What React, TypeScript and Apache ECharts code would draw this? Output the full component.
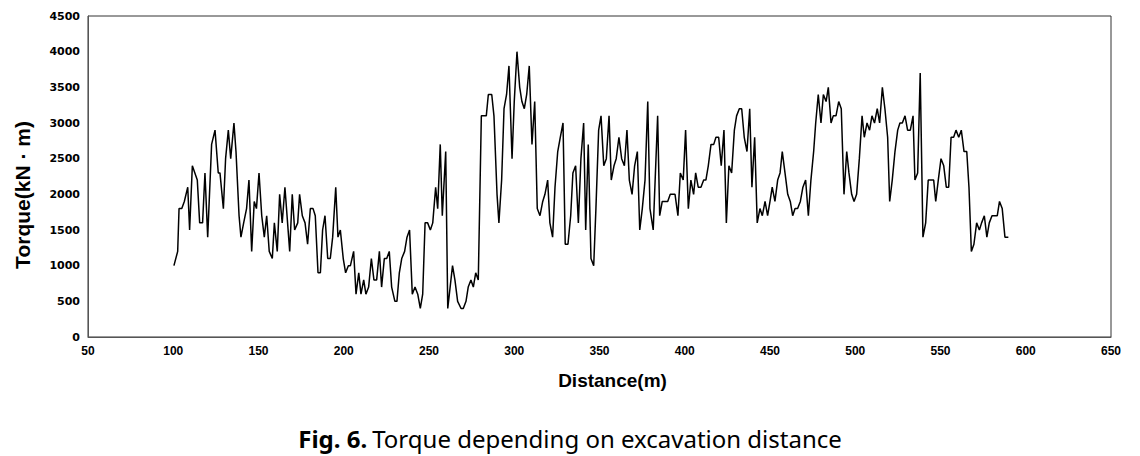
import React, { useEffect, useRef } from "react";
import * as echarts from "echarts";

const distances: number[] = [
  100.4, 102.6, 103.4, 105.0, 106.5, 108.5, 109.6, 111.2, 114.1, 115.5, 117.2, 118.6, 120.2, 122.5, 124.5, 126.4, 127.4, 129.4, 130.7, 132.3,
  133.7, 135.6, 136.8, 138.6, 139.7, 141.3, 143.0, 144.4, 146.0, 147.5, 148.8, 150.3, 151.9, 153.4, 154.8, 156.3, 158.1, 159.3, 161.0, 162.4,
  163.9, 165.5, 168.3, 169.8, 171.2, 173.0, 174.1, 175.7, 177.3, 178.8, 180.4, 182.0, 183.3, 184.9, 186.3, 187.6, 189.0, 190.6, 192.1, 193.5,
  195.3, 196.6, 198.0, 199.7, 201.1, 202.7, 203.9, 205.8, 207.2, 208.8, 210.1, 211.7, 213.0, 214.6, 216.2, 217.7, 219.3, 220.9, 222.2, 223.8,
  225.2, 226.7, 228.1, 230.0, 231.2, 232.6, 234.0, 235.7, 237.1, 238.6, 240.2, 241.8, 243.4, 244.9, 246.3, 247.7, 249.2, 250.8, 252.2, 253.9,
  255.1, 256.6, 257.8, 259.8, 261.0, 263.8, 265.2, 266.8, 268.8, 270.1, 271.7, 273.0, 274.6, 276.0, 277.4, 278.9, 280.7, 282.0, 283.6, 284.8,
  286.8, 288.1, 289.9, 291.0, 292.6, 294.0, 295.5, 296.9, 298.7, 300.0, 301.6, 303.2, 304.5, 305.9, 307.3, 308.8, 310.4, 312.0, 313.5, 315.1,
  316.7, 318.0, 319.6, 320.9, 322.5, 323.9, 325.5, 327.0, 328.6, 329.9, 331.5, 333.1, 334.4, 336.0, 337.6, 339.1, 340.7, 341.9, 343.4, 345.0,
  346.6, 347.9, 349.5, 350.9, 352.5, 354.0, 355.6, 356.9, 358.5, 359.8, 361.4, 363.0, 364.6, 366.1, 367.5, 369.1, 370.6, 372.2, 373.6, 375.1,
  376.7, 378.3, 379.6, 381.5, 384.1, 385.3, 386.8, 388.4, 390.0, 391.5, 392.9, 394.3, 396.0, 397.4, 399.1, 400.5, 402.1, 403.6, 405.2, 406.4,
  407.9, 409.5, 411.1, 412.4, 413.8, 415.4, 417.0, 418.3, 419.9, 421.4, 423.0, 424.4, 425.9, 427.5, 429.1, 430.4, 432.0, 433.4, 434.9, 436.5,
  438.1, 439.4, 441.0, 442.5, 444.1, 445.5, 447.1, 448.6, 450.0, 451.3, 452.9, 454.5, 455.9, 457.2, 458.8, 460.4, 461.9, 463.3, 464.7, 466.2,
  467.8, 469.3, 470.9, 472.5, 474.0, 475.6, 476.8, 478.3, 479.9, 481.3, 482.9, 484.2, 485.8, 487.1, 488.7, 490.3, 491.8, 493.4, 495.0, 496.3,
  497.9, 499.3, 500.8, 502.4, 504.0, 505.3, 506.9, 508.4, 509.8, 511.3, 512.9, 514.3, 515.9, 517.4, 519.0, 520.2, 521.7, 523.3, 524.9, 526.2,
  527.6, 529.2, 530.7, 532.3, 533.9, 535.0, 536.6, 538.1, 539.7, 541.3, 542.8, 544.4, 546.0, 547.2, 548.7, 550.3, 551.9, 553.4, 554.8, 556.2,
  557.7, 559.1, 560.7, 562.2, 563.8, 565.4, 566.7, 568.1, 569.6, 571.2, 572.8, 574.1, 575.7, 577.2, 578.6, 580.2, 581.7, 583.3, 584.6, 586.2,
  587.8, 589.8,
];

const torques: number[] = [
  1000, 1200, 1800, 1800, 1900, 2100, 1500, 2400, 2200, 1600, 1600, 2300, 1400, 2700, 2900, 2300, 2300, 1800, 2500, 2900,
  2500, 3000, 2600, 1700, 1400, 1600, 1800, 2200, 1200, 1900, 1800, 2300, 1700, 1400, 1700, 1200, 1100, 1600, 1200, 2000,
  1600, 2100, 1200, 2000, 1500, 1600, 2000, 1700, 1600, 1300, 1800, 1800, 1700, 900, 900, 1500, 1700, 1100, 1100, 1400,
  2100, 1400, 1500, 1100, 900, 1000, 1000, 1200, 600, 900, 600, 800, 600, 700, 1100, 800, 800, 1200, 700, 1100,
  1100, 1200, 700, 500, 500, 900, 1100, 1200, 1400, 1500, 600, 700, 600, 400, 600, 1600, 1600, 1500, 1600, 2100,
  1800, 2700, 1700, 2600, 400, 1000, 800, 500, 400, 400, 500, 700, 800, 700, 900, 800, 3100, 3100, 3100, 3400,
  3400, 3100, 2000, 1600, 2200, 3200, 3400, 3800, 2500, 3300, 4000, 3500, 3300, 3200, 3400, 3800, 2700, 3300, 1800, 1700,
  1900, 2000, 2200, 1600, 1400, 2100, 2600, 2800, 3000, 1300, 1300, 1700, 2300, 2400, 1600, 2500, 3000, 1500, 2700, 1100,
  1000, 1800, 2900, 3100, 2400, 2500, 3100, 2200, 2400, 2500, 2800, 2500, 2400, 2900, 2200, 2000, 2400, 2600, 1500, 1800,
  2200, 3300, 1800, 1500, 3100, 1700, 1900, 1900, 1900, 2000, 2000, 2000, 1700, 2300, 2200, 2900, 1800, 2200, 2000, 2300,
  2100, 2100, 2200, 2200, 2400, 2700, 2700, 2800, 2800, 2400, 2900, 1600, 2400, 2300, 2900, 3100, 3200, 3200, 2800, 2600,
  3200, 2100, 2800, 1600, 1800, 1700, 1900, 1700, 1900, 2100, 1900, 2200, 2300, 2600, 2300, 2000, 1900, 1700, 1800, 1800,
  1900, 2100, 2200, 1700, 2200, 2600, 3000, 3400, 3000, 3400, 3300, 3500, 3000, 3100, 3100, 3300, 3200, 2000, 2600, 2300,
  2000, 1900, 2000, 2500, 3100, 2800, 3000, 2900, 3100, 3000, 3200, 3000, 3500, 3200, 2800, 1900, 2200, 2600, 2900, 3000,
  3000, 3100, 2900, 2900, 3100, 2200, 2300, 3700, 1400, 1600, 2200, 2200, 2200, 1900, 2200, 2500, 2400, 2100, 2100, 2800,
  2800, 2900, 2800, 2900, 2600, 2600, 2100, 1200, 1300, 1600, 1500, 1600, 1700, 1400, 1600, 1700, 1700, 1700, 1900, 1800,
  1400, 1400,
];

const xTitle = "Distance(m)";
const yTitle = "Torque(kN · m)";
const captionBold = "Fig. 6.";
const captionText = "Torque depending on excavation distance";

export default function App() {
  const ref = useRef<HTMLDivElement>(null);
  useEffect(() => {
    if (!ref.current) return;
    const chart = echarts.init(ref.current, undefined, { renderer: "svg" });
    const data = distances.map((d, i) => [d, torques[i]]);
    chart.setOption({
      animation: false,
      backgroundColor: "#ffffff",
      grid: {
        left: 88,
        right: 29,
        top: 16,
        bottom: 119,
        show: true,
        borderColor: "#333",
        borderWidth: 1,
        backgroundColor: "transparent",
      },
      title: {
        text: `{b|${captionBold}} {n|${captionText}}`,
        left: "center",
        top: 426,
        padding: 0,
        textStyle: {
          fontWeight: "normal",
          rich: {
            b: { fontFamily: "'Noto Sans', sans-serif", fontSize: 24, fontWeight: "bold", color: "#000" },
            n: { fontFamily: "'Noto Sans', sans-serif", fontSize: 24, fontWeight: "normal", color: "#000" },
          },
        },
      },
      graphic: [
        {
          type: "text",
          x: 22,
          y: 195,
          rotation: Math.PI / 2,
          style: {
            text: yTitle,
            fontFamily: "'Liberation Sans', Arial, sans-serif",
            fontWeight: "bold",
            fontSize: 21,
            fill: "#000",
            align: "center",
            verticalAlign: "middle",
          },
        },
      ],
      xAxis: {
        type: "value",
        min: 50,
        max: 650,
        interval: 50,
        name: xTitle,
        nameLocation: "middle",
        nameGap: 34,
        nameTextStyle: { fontFamily: "'Liberation Sans', Arial, sans-serif", fontWeight: "bold", fontSize: 19, color: "#000", padding: [0, 0, 0, 26] },
        axisLine: { show: true, lineStyle: { color: "#555", width: 1 } },
        axisTick: { show: false },
        splitLine: { show: false },
        axisLabel: {
          margin: 8,
          fontFamily: "'Liberation Sans', Arial, sans-serif",
          fontWeight: "bold",
          fontSize: 12,
          color: "#000",
        },
      },
      yAxis: {
        type: "value",
        min: 0,
        max: 4500,
        interval: 500,
        axisLine: { show: true, lineStyle: { color: "#555", width: 1 } },
        axisTick: { show: false },
        splitLine: { show: false },
        axisLabel: {
          margin: 8,
          fontFamily: "'DejaVu Sans', Verdana, sans-serif",
          fontWeight: "bold",
          fontSize: 11,
          color: "#000",
          formatter: (v: number) => String(v),
        },
      },
      series: [
        {
          type: "line",
          data,
          showSymbol: false,
          symbol: "none",
          lineStyle: { color: "#000", width: 1.5 },
        },
      ],
    });
    return () => chart.dispose();
  }, []);
  return (
    <div
      ref={ref}
      style={{ position: "absolute", left: 0, top: 0, width: 1140, height: 456 }}
    />
  );
}
